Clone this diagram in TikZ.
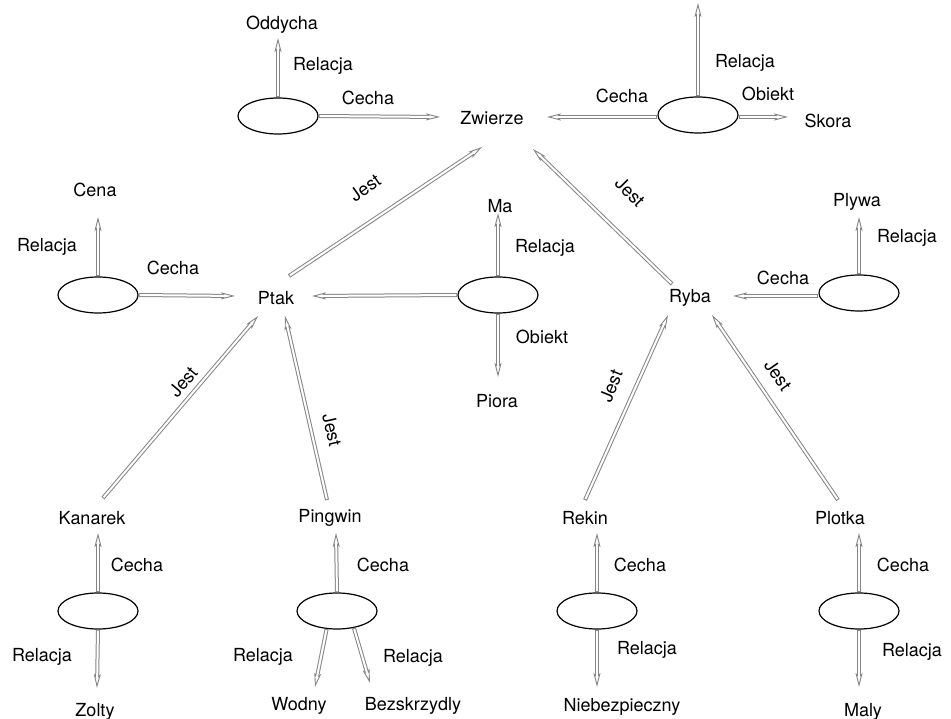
\documentclass[tikz,border=0pt]{standalone}
\usepackage{fontspec}
\setmainfont{TeX Gyre Heros}
\usetikzlibrary{shapes.geometric,arrows.meta}
\begin{document}
\begin{tikzpicture}[x=1pt,y=-1pt,
  lbl/.style={inner sep=1pt, font=\fontsize{18}{20}\selectfont},
  oval/.style={draw, ellipse, line width=1.2pt, minimum width=80pt, minimum height=36pt, inner sep=0pt},
  % hollow gray connector: outer gray stroke, inner white stroke, open needle tip
  link/.style={draw=black!48, line width=4pt,
    -{Stealth[open, length=14pt, width=7pt, line width=0.9pt, inset=3pt]},
    postaction={draw=white, line width=2pt, -, shorten >=9pt, shorten <=1pt}},
]
\fill[white] (0,0) rectangle (951,719);
\useasboundingbox (0,0) rectangle (951,719);

% ---- concept nodes
\node[lbl] (oddycha) at (282,25) {Oddycha};
\node[lbl] (zwierze) at (492,118) {Zwierze};
\node[lbl] (skora) at (828,121) {Skora};
\node[lbl] (cena) at (95,190) {Cena};
\node[lbl] (ptak) at (276,298) {Ptak};
\node[lbl] (ma) at (500,206) {Ma};
\node[lbl] (piora) at (497,401) {Piora};
\node[lbl] (ryba) at (690,298) {Ryba};
\node[lbl] (plywa) at (857,202) {Plywa};
\node[lbl] (kanarek) at (92,518) {Kanarek};
\node[lbl] (pingwin) at (330,518) {Pingwin};
\node[lbl] (rekin) at (585,518) {Rekin};
\node[lbl] (plotka) at (840,518) {Plotka};
\node[lbl] (zolty) at (95,712) {Zolty};
\node[lbl] (wodny) at (299,706) {Wodny};
\node[lbl] (bezskrzydly) at (413,706) {Bezskrzydly};
\node[lbl] (niebezpieczny) at (622,707) {Niebezpieczny};
\node[lbl] (maly) at (863,712) {Maly};

% ---- relation ellipses
\node[oval] (e1) at (278,116) {};
\node[oval] (e2) at (698,115) {};
\node[oval] (e3) at (98,295) {};
\node[oval] (e4) at (498,295) {};
\node[oval] (e5) at (859,293) {};
\node[oval] (e6) at (98,611) {};
\node[oval] (e7) at (337,611) {};
\node[oval] (e8) at (597,611) {};
\node[oval] (e9) at (859,611) {};

% ---- arrow tips
\coordinate (t-oddycha) at (278,38);
\coordinate (t-top) at (698,3);
\coordinate (t-z1) at (440,117);
\coordinate (t-z2) at (547,117);
\coordinate (t-skora) at (788,117);
\coordinate (t-cena) at (98,217);
\coordinate (t-p1) at (235,296);
\coordinate (t-p2) at (312,296);
\coordinate (t-ma) at (498,213);
\coordinate (t-piora) at (498,377);
\coordinate (t-ryba) at (733,296);
\coordinate (t-plywa) at (859,217);
\coordinate (t-kanarek) at (98,533);
\coordinate (t-pingwin) at (336,533);
\coordinate (t-rekin) at (597,533);
\coordinate (t-plotka) at (859,533);
\coordinate (t-zolty) at (97,688);
\coordinate (t-wodny) at (315,687);
\coordinate (t-bez) at (370,683);
\coordinate (t-nieb) at (597,687);
\coordinate (t-maly) at (859,687);

% ---- "Jest" line ends
\coordinate (s-ptak) at (289,276);
\coordinate (z-left) at (482,147);
\coordinate (s-ryba) at (672,284);
\coordinate (z-right) at (533,149);
\coordinate (s-kan) at (103,498);
\coordinate (p-kan) at (258,316);
\coordinate (s-pin) at (327,500);
\coordinate (p-pin) at (285,316);
\coordinate (s-rek) at (585,500);
\coordinate (r-rek) at (668,315);
\coordinate (s-plo) at (838,500);
\coordinate (r-plo) at (712,315);

% ---- links
\draw[link] (e1.north) -- (t-oddycha);
\draw[link] (e1.east) -- (t-z1);
\draw[link] (e2.north) -- (t-top);
\draw[link] (e2.west |- t-z2) -- (t-z2);
\draw[link] (e2.east |- t-skora) -- (t-skora);
\draw[link] (e3.north) -- (t-cena);
\draw[link] (e3.east) -- (t-p1);
\draw[link] (e4.west) -- (t-p2);
\draw[link] (e4.north) -- (t-ma);
\draw[link] (e4.south) -- (t-piora);
\draw[link] (e5.west |- t-ryba) -- (t-ryba);
\draw[link] (e5.north) -- (t-plywa);
\draw[link] (e6.north) -- (t-kanarek);
\draw[link] (e6.south) -- (t-zolty);
\draw[link] (e7.north) -- (t-pingwin);
\draw[link] (e7.240) -- (t-wodny);
\draw[link] (e7.315) -- (t-bez);
\draw[link] (e8.north) -- (t-rekin);
\draw[link] (e8.south) -- (t-nieb);
\draw[link] (e9.north) -- (t-plotka);
\draw[link] (e9.south) -- (t-maly);

\draw[link] (s-ptak) -- (z-left);
\draw[link] (s-ryba) -- (z-right);
\draw[link] (s-kan) -- (p-kan);
\draw[link] (s-pin) -- (p-pin);
\draw[link] (s-rek) -- (r-rek);
\draw[link] (s-plo) -- (r-plo);

% ---- link labels
\node[lbl] (rel1) at (323,66) {Relacja};
\node[lbl] (cec1) at (368,98) {Cecha};
\node[lbl] (rel2) at (745,63) {Relacja};
\node[lbl] (cec2) at (622,96) {Cecha};
\node[lbl] (obi2) at (768,94) {Obiekt};
\node[lbl] (rel3) at (47,247) {Relacja};
\node[lbl] (cec3) at (173,268) {Cecha};
\node[lbl] (rel4) at (545,248) {Relacja};
\node[lbl] (obi4) at (542,337) {Obiekt};
\node[lbl] (cec5) at (783,278) {Cecha};
\node[lbl] (rel5) at (907,238) {Relacja};
\node[lbl] (cec6) at (137,565) {Cecha};
\node[lbl] (rel6) at (42,657) {Relacja};
\node[lbl] (cec7) at (383,565) {Cecha};
\node[lbl] (rel7a) at (263,657) {Relacja};
\node[lbl] (rel7b) at (413,658) {Relacja};
\node[lbl] (cec8) at (640,565) {Cecha};
\node[lbl] (rel8) at (647,650) {Relacja};
\node[lbl] (cec9) at (903,565) {Cecha};
\node[lbl] (rel9) at (912,652) {Relacja};

\node[lbl, rotate=35] (jest1) at (365,188) {Jest};
\node[lbl, rotate=-45] (jest2) at (630,192) {Jest};
\node[lbl, rotate=50] (jest3) at (183,382) {Jest};
\node[lbl, rotate=-77] (jest4) at (332,430) {Jest};
\node[lbl, rotate=68] (jest5) at (611,386) {Jest};
\node[lbl, rotate=-55] (jest6) at (778,375) {Jest};
\end{tikzpicture}
\end{document}
